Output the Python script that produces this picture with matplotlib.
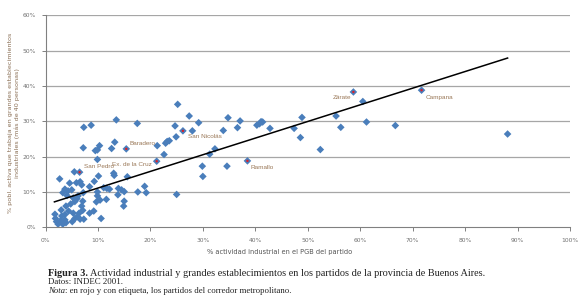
import matplotlib
matplotlib.use("Agg")
import matplotlib.pyplot as plt
from matplotlib.ticker import FuncFormatter

# % actividad industrial en el PGB (x) vs % pobl. activa en grandes establecimientos (y)
x_vals = [25.2, 13.5, 7.3, 8.7, 17.5, 27.4, 29.2, 24.7, 24.9, 28.0, 33.9, 34.8, 37.1, 36.6,
          40.3, 40.8, 41.1, 41.4, 42.8, 47.4, 48.6, 48.9,
          7.2, 9.5, 10.3, 9.9, 12.6, 13.2, 21.3, 22.9, 23.2, 23.6, 22.6, 32.3, 31.3, 29.9,
          30.0, 34.6, 25.0, 9.9, 5.5, 2.7, 13.0, 13.1, 15.6, 10.1, 9.3, 5.9, 4.6, 6.6, 6.9,
          8.4, 11.1, 11.7, 12.2, 13.9, 14.5, 15.0, 18.9, 19.2, 17.6, 13.8, 9.9, 9.9, 9.7,
          10.4, 11.6, 15.0, 14.9, 10.6, 9.2, 7.2, 7.1, 3.3, 3.7, 4.3, 5.0, 5.3, 4.1, 4.8,
          3.9, 3.0, 4.4, 5.3, 6.4, 7.1, 6.9, 6.1, 6.6, 7.3, 5.6, 5.1, 3.7, 2.9, 2.1, 1.9,
          1.8, 2.4, 3.3, 3.9, 3.1, 3.7, 8.4, 5.6, 6.0, 6.2,
          60.5, 55.4, 52.4, 56.3, 61.2, 66.7, 88.1]
y_vals = [34.8, 30.4, 28.3, 28.9, 29.4, 31.5, 29.6, 28.7, 25.6, 27.3, 27.4, 31.0, 30.1, 28.2,
          28.9, 29.3, 29.9, 29.8, 28.0, 28.0, 25.4, 31.1,
          22.5, 21.7, 23.1, 21.9, 22.3, 24.1, 23.1, 23.8, 24.3, 24.5, 20.6, 22.2, 20.7, 17.3,
          14.4, 17.3, 9.3, 19.2, 15.7, 13.7, 15.3, 14.7, 14.3, 14.5, 13.0, 12.6, 12.5, 12.9, 12.0,
          11.5, 11.2, 11.0, 10.8, 11.0, 10.6, 10.1, 11.6, 9.8, 10.0, 9.2, 10.0, 8.9, 7.2,
          7.7, 7.9, 7.4, 6.0, 2.5, 4.6, 9.8, 7.4, 9.8, 10.8, 10.3, 10.6, 8.3, 9.0, 6.6,
          6.0, 4.9, 4.6, 4.0, 4.0, 4.8, 6.0, 3.0, 2.3, 2.3, 2.5, 1.6, 2.1, 1.9, 1.6, 2.5,
          3.7, 0.9, 0.9, 1.3, 3.2, 3.6, 4.0, 7.3, 8.1, 8.9,
          35.6, 31.5, 22.0, 28.3, 29.8, 28.8, 26.4]

# Partidos del corredor metropolitano (rojo, con etiqueta)
red_names = ["San Nicolás", "Baradero", "San Pedro", "Ex. de la Cruz", "Ramallo", "Zárate", "Campana"]
red_x = [26.2, 15.4, 6.5, 21.2, 38.5, 58.7, 71.7]
red_y = [27.3, 22.2, 15.6, 18.7, 18.8, 38.3, 38.8]

# Línea de tendencia (extremos)
trend_x = [1.7, 88.1]
trend_y = [7.2, 47.9]

x_ticks = [0, 10, 20, 30, 40, 50, 60, 70, 80, 90, 100]
y_ticks = [0, 10, 20, 30, 40, 50, 60]

W, H = 578, 307
fig = plt.figure(figsize=(W / 100, H / 100), dpi=100)
fig.patch.set_facecolor("white")
ax = fig.add_axes([45.5 / W, 1 - 227.3 / H, (570 - 45.5) / W, (227.3 - 15.3) / H])
ax.set_xlim(0, 100)
ax.set_ylim(0, 60)

blue = "#4a7ebb"
ax.set_yticks(y_ticks)
ax.set_xticks(x_ticks)
for t in y_ticks[1:]:
    ax.axhline(t, color="#a6a6a6", lw=0.9, zorder=1)

ax.scatter(x_vals, y_vals, marker="D", s=15, color=blue, edgecolors="none", zorder=3)
ax.scatter(red_x, red_y, marker="D", s=15, color=blue, edgecolors="none", zorder=3)
ax.scatter(red_x, red_y, marker="o", s=3, color="#d8202a", edgecolors="none", zorder=4)

ax.plot(trend_x, trend_y, color="black", lw=1.1, zorder=5)

label_color = "#9a7858"
offsets = {
    "San Nicolás": (1.0, -1.5, "left"),
    "Baradero": (0.7, 1.6, "left"),
    "San Pedro": (0.8, 1.6, "left"),
    "Ex. de la Cruz": (-0.9, -0.8, "right"),
    "Ramallo": (0.6, -2.0, "left"),
    "Zárate": (-0.5, -1.5, "right"),
    "Campana": (0.8, -2.0, "left"),
}
for name, px, py in zip(red_names, red_x, red_y):
    dx, dy, ha = offsets[name]
    ax.text(px + dx, py + dy, name, fontsize=4.6, color=label_color, ha=ha, va="center",
            family="Liberation Sans", zorder=6)

fmt = FuncFormatter(lambda v, p: f"{int(v)}%")
ax.xaxis.set_major_formatter(fmt)
ax.yaxis.set_major_formatter(fmt)
ax.tick_params(axis="both", labelsize=4.3, colors="#808080", labelcolor="#707070",
               length=3, width=0.7)
ax.tick_params(axis="x", pad=5)
ax.tick_params(axis="y", pad=4)
for s in ["top", "right"]:
    ax.spines[s].set_visible(False)
for s in ["left", "bottom"]:
    ax.spines[s].set_color("#808080")
    ax.spines[s].set_linewidth(0.8)

fig.text(280 / W, 1 - 251.7 / H, "% actividad industrial en el PGB del partido", fontsize=4.8,
         color="#555555", ha="center", va="center")
fig.text(14 / W, 1 - 123 / H,
         "% pobl. activa que trabaja en grandes establecimientos\nindustriales (más de 40 personas)",
         fontsize=4.6, color="#8a6f55", ha="center", va="center", rotation=90, linespacing=1.15)

serif = "Liberation Serif"
t1 = fig.text(48 / W, 1 - 273.3 / H, "Figura 3.", fontsize=7.4, family=serif,
              weight="bold", color="#222222", va="center", ha="left")
fig.canvas.draw()
bb = t1.get_window_extent()
fig.text((bb.x1 + 2) / W, 1 - 273.3 / H,
         "Actividad industrial y grandes establecimientos en los partidos de la provincia de Buenos Aires.",
         fontsize=7.4, family=serif, color="#222222", va="center", ha="left")
fig.text(48 / W, 1 - 281.9 / H, "Datos: INDEC 2001.", fontsize=6.4, family=serif,
         color="#222222", va="center", ha="left")
t3 = fig.text(48 / W, 1 - 290.8 / H, "Nota", fontsize=6.3, family=serif, style="italic",
              color="#222222", va="center", ha="left")
fig.canvas.draw()
bb3 = t3.get_window_extent()
fig.text(bb3.x1 / W, 1 - 290.8 / H,
         ": en rojo y con etiqueta, los partidos del corredor metropolitano.",
         fontsize=6.3, family=serif, color="#222222", va="center", ha="left")

fig.savefig("out.png", dpi=100, facecolor="white")
